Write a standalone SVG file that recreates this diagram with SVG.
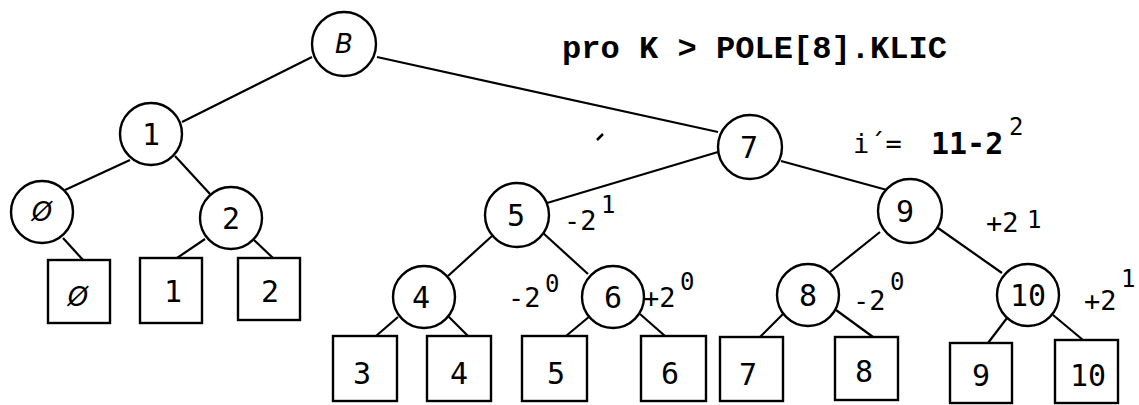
<svg xmlns="http://www.w3.org/2000/svg" width="1139" height="405" viewBox="0 0 1139 405">
<style>
.n{fill:#fff;stroke:#000;stroke-width:2.4}
.b{fill:none;stroke:#000;stroke-width:2.4}
.c line{stroke:#000;stroke-width:2.2}
.t{font-family:"DejaVu Sans Mono","Liberation Mono",monospace;font-size:30px;fill:#000;text-anchor:middle}
.i{font-family:"DejaVu Sans","Liberation Sans",sans-serif;font-style:italic;font-size:26px;fill:#000;text-anchor:middle}
.h{font-family:"Liberation Mono","Courier New",monospace;font-weight:bold;font-size:32px;fill:#000}
.l{font-family:"DejaVu Sans Mono","Liberation Mono",monospace;font-size:27px;fill:#000}
.s{font-family:"DejaVu Sans Mono","Liberation Mono",monospace;font-size:24px;fill:#000}
.big{font-size:30px;font-weight:bold}
</style>
<rect width="1139" height="405" fill="#fff"/>
<g id="connectors" class="c">
<line x1="312" y1="57" x2="182" y2="122"/>
<line x1="377" y1="57" x2="718" y2="132"/>
<line x1="130" y1="160" x2="65" y2="190"/>
<line x1="175" y1="156" x2="210" y2="194"/>
<line x1="63" y1="238" x2="83" y2="260"/>
<line x1="205" y1="239" x2="177" y2="258"/>
<line x1="254" y1="240" x2="273" y2="258"/>
<line x1="718" y1="152" x2="547" y2="203"/>
<line x1="781" y1="161" x2="887" y2="190"/>
<line x1="492" y1="236" x2="448" y2="276"/>
<line x1="543" y1="233" x2="588" y2="274"/>
<line x1="398" y1="317" x2="376" y2="336"/>
<line x1="448" y1="316" x2="468" y2="336"/>
<line x1="590" y1="316" x2="566" y2="336"/>
<line x1="640" y1="314" x2="665" y2="336"/>
<line x1="880" y1="232" x2="830" y2="272"/>
<line x1="938" y1="228" x2="1002" y2="273"/>
<line x1="784" y1="313" x2="760" y2="337"/>
<line x1="836" y1="310" x2="873" y2="337"/>
<line x1="1007" y1="318" x2="988" y2="343"/>
<line x1="1053" y1="315" x2="1083" y2="340"/>
</g>
<g id="node-B"><circle class="n" cx="344" cy="44" r="32"/><text class="i" x="344" y="53">B</text></g>
<g id="node-1"><circle class="n" cx="151" cy="134" r="31"/><text class="t" x="151" y="145">1</text></g>
<g id="node-0"><circle class="n" cx="42" cy="212" r="31"/><text class="i" x="42" y="221">Ø</text></g>
<g id="node-2"><circle class="n" cx="231" cy="218" r="31"/><text class="t" x="231" y="229">2</text></g>
<g id="node-7"><circle class="n" cx="750" cy="147" r="32"/><text class="t" x="749" y="158">7</text></g>
<g id="node-5"><circle class="n" cx="517" cy="215" r="32"/><text class="t" x="516" y="226">5</text></g>
<g id="node-9"><circle class="n" cx="910" cy="211" r="32"/><text class="t" x="905" y="222">9</text></g>
<g id="node-4"><circle class="n" cx="424" cy="297" r="31"/><text class="t" x="421" y="308">4</text></g>
<g id="node-6"><circle class="n" cx="613" cy="297" r="31"/><text class="t" x="613" y="308">6</text></g>
<g id="node-8"><circle class="n" cx="808" cy="295" r="31"/><text class="t" x="808" y="306">8</text></g>
<g id="node-10"><circle class="n" cx="1028" cy="295" r="31"/><text class="t" x="1028" y="306">10</text></g>
<g id="leaf-0"><rect class="b" x="48" y="260" width="62" height="63"/><text class="i" x="78" y="306">Ø</text></g>
<g id="leaf-1"><rect class="b" x="140" y="258" width="62" height="65"/><text class="t" x="173" y="302">1</text></g>
<g id="leaf-2"><rect class="b" x="238" y="258" width="62" height="62"/><text class="t" x="270" y="302">2</text></g>
<g id="leaf-3"><rect class="b" x="333" y="336" width="64" height="65"/><text class="t" x="362" y="384">3</text></g>
<g id="leaf-4"><rect class="b" x="427" y="336" width="64" height="65"/><text class="t" x="459" y="384">4</text></g>
<g id="leaf-5"><rect class="b" x="522" y="336" width="65" height="65"/><text class="t" x="556" y="384">5</text></g>
<g id="leaf-6"><rect class="b" x="641" y="336" width="65" height="65"/><text class="t" x="670" y="384">6</text></g>
<g id="leaf-7"><rect class="b" x="720" y="337" width="63" height="64"/><text class="t" x="748" y="385">7</text></g>
<g id="leaf-8"><rect class="b" x="835" y="337" width="63" height="63"/><text class="t" x="864" y="382">8</text></g>
<g id="leaf-9"><rect class="b" x="950" y="343" width="62" height="60"/><text class="t" x="981" y="386">9</text></g>
<g id="leaf-10"><rect class="b" x="1055" y="340" width="63" height="63"/><text class="t" x="1088" y="386">10</text></g>
<g id="labels">
<text class="h" x="562" y="58" textLength="385" lengthAdjust="spacingAndGlyphs">pro K &gt; POLE[8].KLIC</text>
<text class="l" x="853" y="153">i´=</text>
<text class="l big" x="931" y="154">11-2</text>
<text class="s" x="1009" y="135">2</text>
<path d="M597 140 L603 134" stroke="#000" stroke-width="2.5"/>
<text class="l" x="564" y="230">-2</text><text class="s" x="601" y="213">1</text>
<text class="l" x="508" y="307">-2</text><text class="s" x="545" y="292">0</text>
<text class="l" x="643" y="307">+2</text><text class="s" x="680" y="290">0</text>
<text class="l" x="986" y="232">+2</text><text class="s" x="1027" y="228">1</text>
<text class="l" x="853" y="310">-2</text><text class="s" x="890" y="290">0</text>
<text class="l" x="1084" y="310">+2</text><text class="s" x="1121" y="287">1</text>
</g>
</svg>
